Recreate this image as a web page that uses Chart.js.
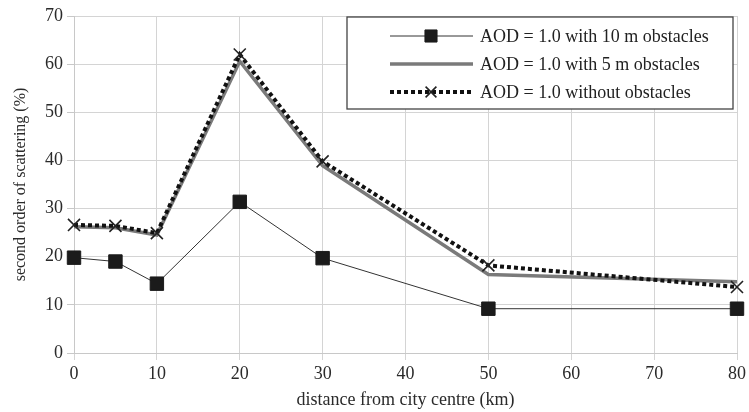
<!DOCTYPE html>
<html>
<head>
<meta charset="utf-8">
<script src="https://cdn.jsdelivr.net/npm/chart.js@4.4.1/dist/chart.umd.min.js"></script>
<style>
  html, body { margin: 0; padding: 0; background: #fff; }
  #wrap { width: 749px; height: 412px; }
</style>
</head>
<body>
<div id="wrap"><canvas id="myChart" width="749" height="412"></canvas></div>
<script>
// data
const distances = [0, 5, 10, 20, 30, 50, 80];
const obst10 = [19.8, 19.0, 14.4, 31.4, 19.7, 9.2, 9.2];
const obst5 = [26.2, 26.0, 24.5, 60.6, 38.9, 16.3, 14.8];
const noObst = [26.6, 26.4, 24.9, 62.0, 39.8, 18.2, 13.7];
const seriesNames = [
    'AOD = 1.0 with 10 m obstacles',
    'AOD = 1.0 with 5 m obstacles',
    'AOD = 1.0 without obstacles'
];

const serif = "'Liberation Serif', 'Times New Roman', serif";

function toPoints(values) {
    return distances.map((d, i) => ({ x: d, y: values[i] }));
}

// legend box drawn inside the plot, top right
const boxLegend = {
    id: 'boxLegend',
    afterDraw(chart) {
        const ctx = chart.ctx;
        const x0 = 347, y0 = 17, w = 386, h = 92;
        ctx.save();
        ctx.fillStyle = '#fff';
        ctx.fillRect(x0, y0, w, h);
        ctx.strokeStyle = '#444';
        ctx.lineWidth = 1.3;
        ctx.strokeRect(x0, y0, w, h);

        const rows = [36, 64, 92];
        chart.data.datasets.forEach((ds, i) => {
            const y = rows[i];
            ctx.save();
            ctx.strokeStyle = ds.borderColor;
            ctx.lineWidth = ds.borderWidth;
            ctx.setLineDash(ds.borderDash || []);
            ctx.beginPath();
            ctx.moveTo(390, y);
            ctx.lineTo(473, y);
            ctx.stroke();
            ctx.setLineDash([]);
            if (ds.pointRadius > 0) {
                ctx.fillStyle = ds.pointBackgroundColor;
                ctx.strokeStyle = ds.pointBorderColor;
                ctx.lineWidth = ds.pointBorderWidth;
                Chart.helpers.drawPoint(ctx, {
                    pointStyle: ds.pointStyle,
                    rotation: 0,
                    radius: ds.pointRadius * 0.9,
                    borderWidth: ds.pointBorderWidth
                }, 431, y);
            }
            ctx.restore();
            ctx.fillStyle = '#222';
            ctx.font = '18px ' + serif;
            ctx.textBaseline = 'middle';
            ctx.fillText(ds.label, 480, y + 1);
        });
        ctx.restore();
    }
};

const ctx = document.getElementById('myChart').getContext('2d');

const config = {
    type: 'line',
    data: {
        datasets: [{
            label: seriesNames[0],
            data: toPoints(obst10),
            borderColor: '#333',
            borderWidth: 1,
            pointStyle: 'rect',
            pointRadius: 9.5,
            pointBackgroundColor: '#1b1b1b',
            pointBorderColor: '#1b1b1b',
            pointBorderWidth: 1,
            clip: false,
            order: 0
        }, {
            label: seriesNames[1],
            data: toPoints(obst5),
            borderColor: '#7a7a7a',
            borderWidth: 3.5,
            pointRadius: 0,
            clip: false,
            order: 2
        }, {
            label: seriesNames[2],
            data: toPoints(noObst),
            borderColor: '#111',
            borderWidth: 4,
            borderDash: [4, 3],
            pointStyle: 'crossRot',
            pointRadius: 8.5,
            pointBackgroundColor: '#222',
            pointBorderColor: '#222',
            pointBorderWidth: 1.6,
            clip: false,
            order: 1
        }]
    },
    options: {
        responsive: false,
        animation: false,
        events: [],
        layout: { padding: { top: 16, right: 11, left: 0, bottom: 0 } },
        plugins: {
            legend: { display: false },
            tooltip: { enabled: false }
        },
        scales: {
            x: {
                type: 'linear',
                min: 0,
                max: 80,
                ticks: {
                    stepSize: 10,
                    color: '#2a2a2a',
                    font: { family: serif, size: 18 },
                    padding: 3
                },
                grid: { color: '#d4d4d4', tickLength: 7, lineWidth: 1 },
                border: { color: '#c8c8c8' },
                title: {
                    display: true,
                    text: 'distance from city centre (km)',
                    color: '#2a2a2a',
                    font: { family: serif, size: 18 },
                    padding: { top: 0, bottom: 1 }
                },
                afterFit: scale => { scale.height = 59; }
            },
            y: {
                min: 0,
                max: 70,
                ticks: {
                    stepSize: 5,
                    color: '#2a2a2a',
                    font: { family: serif, size: 18 },
                    padding: 4,
                    callback: value => value % 10 === 0 ? value : ''
                },
                grid: {
                    color: '#d4d4d4',
                    tickLength: 7,
                    tickColor: c => c.tick && c.tick.value % 10 === 0 ? '#c8c8c8' : 'rgba(0,0,0,0)'
                },
                border: { color: '#c8c8c8' },
                title: {
                    display: true,
                    text: 'second order of scattering (%)',
                    color: '#2a2a2a',
                    font: { family: serif, size: 16 },
                    padding: { top: 11, bottom: 0 }
                },
                afterFit: scale => { scale.width = 74; }
            }
        }
    },
    plugins: [boxLegend]
};

window.myChart = new Chart(ctx, config);
</script>
</body>
</html>
